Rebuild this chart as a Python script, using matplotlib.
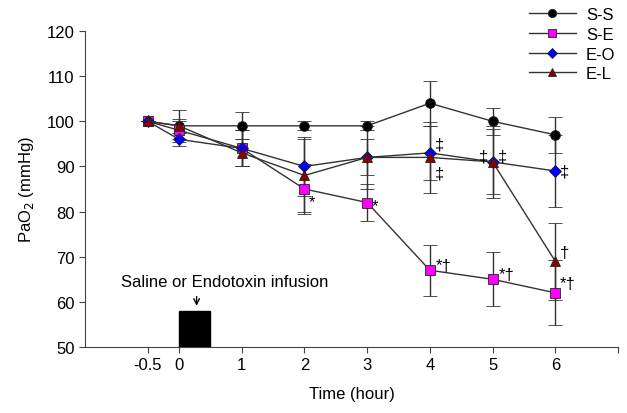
import matplotlib
matplotlib.use("Agg")
import matplotlib.pyplot as plt
from matplotlib.lines import Line2D

plt.rcParams['font.family'] = ['Liberation Sans', 'DejaVu Sans']

time = [-0.5, 0, 1, 2, 3, 4, 5, 6]

ss_mean = [100, 99, 99, 99, 99, 104, 100, 97]
ss_err = [0, 1.5, 3, 1, 1, 5, 3, 4]
se_mean = [100, 98, 94, 85, 82, 67, 65, 62]
se_err = [0, 2, 4, 5.5, 4, 5.7, 6, 7.2]
eo_mean = [100, 96, 94, 90, 92, 93, 91, 89]
eo_err = [0, 1.5, 4, 6.5, 4, 6, 7.2, 8]
el_mean = [100, 99, 93, 88, 92, 92, 91, 69]
el_err = [0, 3.6, 3, 8, 7, 7.8, 8, 8.5]

series = [
    ("S-S", ss_mean, ss_err, "o", "black", 7),
    ("S-E", se_mean, se_err, "s", "#ff00ff", 6.5),
    ("E-O", eo_mean, eo_err, "D", "#0000ff", 6),
    ("E-L", el_mean, el_err, "^", "#8b0000", 7),
]

xticks = [-0.5, 0, 1, 2, 3, 4, 5, 6]
xtick_labels = ["-0.5", "0", "1", "2", "3", "4", "5", "6"]
yticks = [50, 60, 70, 80, 90, 100, 110, 120]

# significance annotations: (x, y, text)
annotations = [
    (2.07, 82.3, "*"), (3.07, 81.3, "*"),
    (4.08, 95.0, "‡"), (4.08, 88.5, "‡"), (4.1, 68.0, "*†"),
    (4.78, 92.3, "‡"), (5.08, 92.3, "‡"), (5.1, 66.0, "*†"),
    (6.08, 89, "‡"), (6.08, 71.0, "†"), (6.07, 64.0, "*†"),
]

fig = plt.figure(figsize=(6.27, 4.14), dpi=100)
ax = fig.add_axes([0.1356, 0.1594, 0.85, 0.7633])

lc = "#333333"
handles = []
for name, m, e, mk, col, ms in series:
    ax.errorbar(time, m, yerr=e, color=lc, ecolor=lc, elinewidth=1, capsize=5,
                capthick=1, lw=1, marker=mk, markersize=ms, markerfacecolor=col,
                markeredgecolor="#222222", markeredgewidth=0.6)
    handles.append(Line2D([], [], color=lc, lw=1, marker=mk, markersize=ms * 0.85,
                          markerfacecolor=col, markeredgecolor="#222222",
                          markeredgewidth=0.6, label=name))

for x, y, t in annotations:
    ax.text(x, y, t, fontsize=12, ha="left", va="center", color="black")

# infusion bar
ax.bar([0.25], [8], width=0.5, bottom=50, color="black", edgecolor="black", zorder=3)
ax.annotate("", xy=(0.28, 58.5), xytext=(0.28, 61.8),
            arrowprops=dict(arrowstyle="->", color="black", lw=1))
ax.text(0.72, 64.5, "Saline or Endotoxin infusion", fontsize=12, ha="center", va="center")

ax.set_xlim(-1.5, 7)
ax.set_ylim(50, 120)
ax.set_xticks(xticks + [7])
ax.set_xticklabels(xtick_labels + [""])
ax.set_yticks(yticks)
ax.tick_params(labelsize=12, direction="out", length=4, color="#444444")
for s in ["top", "right"]:
    ax.spines[s].set_visible(False)
for s in ["left", "bottom"]:
    ax.spines[s].set_color("#444444")
ax.set_xlabel("Time (hour)", fontsize=12, labelpad=10)
ax.set_ylabel("PaO$_2$ (mmHg)", fontsize=12, labelpad=8)

leg = ax.legend(handles=handles, loc="upper right", bbox_to_anchor=(0.995, 1.075),
                frameon=False, fontsize=12, handlelength=2.8, handletextpad=0.6,
                labelspacing=0.28, borderaxespad=0, borderpad=0)

fig.savefig("out.png", dpi=100)
